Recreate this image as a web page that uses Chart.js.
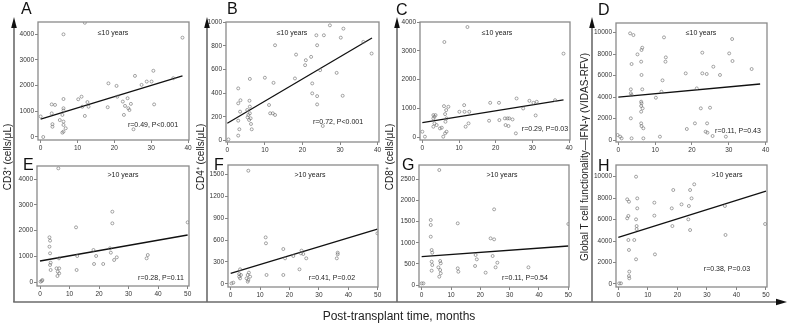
<!DOCTYPE html>
<html><head><meta charset="utf-8">
<script src="https://cdn.jsdelivr.net/npm/chart.js@4.4.0/dist/chart.umd.min.js"></script>
<style>
html,body{margin:0;padding:0;background:#fff;width:787px;height:325px;overflow:hidden;position:relative;font-family:"Liberation Sans",Arial,sans-serif}
canvas{position:absolute}
#ov{position:absolute;left:0;top:0;z-index:5;pointer-events:none}
</style></head><body>
<svg id="ov" width="787" height="325" xmlns="http://www.w3.org/2000/svg" font-family="Liberation Sans, Arial, sans-serif">
  <g stroke="#6b6b6b" stroke-width="1.6" fill="none">
    <line x1="14" y1="24" x2="14" y2="302"/>
    <line x1="207" y1="24" x2="207" y2="302"/>
    <line x1="397" y1="24" x2="397" y2="302"/>
    <line x1="592" y1="24" x2="592" y2="302"/>
    <line x1="13.2" y1="302" x2="779" y2="302"/>
  </g>
  <g fill="#111">
    <polygon points="14,17 11.2,28 16.8,28"/>
    <polygon points="207,17 204.2,28 209.8,28"/>
    <polygon points="397,17 394.2,28 399.8,28"/>
    <polygon points="592,17 589.2,28 594.8,28"/>
    <polygon points="787,302 776,298.8 776,305.2"/>
  </g>
  <g font-size="16" fill="#111">
    <text x="21" y="14">A</text>
    <text x="227" y="14">B</text>
    <text x="396" y="15">C</text>
    <text x="598" y="15">D</text>
    <text x="23" y="170">E</text>
    <text x="214" y="170">F</text>
    <text x="402" y="170">G</text>
    <text x="598" y="171">H</text>
  </g>
  <g font-size="7" fill="#222" text-anchor="middle">
    <text x="113" y="34.5">≤10 years</text>
    <text x="292" y="34.5">≤10 years</text>
    <text x="497" y="34.5">≤10 years</text>
    <text x="701" y="34.5">≤10 years</text>
    <text x="123" y="176.5">&gt;10 years</text>
    <text x="310" y="176.5">&gt;10 years</text>
    <text x="502" y="176.5">&gt;10 years</text>
    <text x="727" y="176.5">&gt;10 years</text>
    <text x="153" y="126.5">r=0.49, P&lt;0.001</text>
    <text x="338" y="123.5">r=0.72, P&lt;0.001</text>
    <text x="545" y="130.5">r=0.29, P=0.03</text>
    <text x="738" y="132.5">r=0.11, P=0.43</text>
    <text x="161" y="279.5">r=0.28, P=0.11</text>
    <text x="332" y="279.5">r=0.41, P=0.02</text>
    <text x="525" y="279.5">r=0.11, P=0.54</text>
    <text x="727" y="270.5">r=0.38, P=0.03</text>
  </g>
  <g font-size="10" fill="#222" text-anchor="middle">
    <text transform="translate(11,157) rotate(-90)">CD3⁺ (cells/μL)</text>
    <text transform="translate(203.5,157) rotate(-90)">CD4⁺ (cells/μL)</text>
    <text transform="translate(393,157) rotate(-90)">CD8⁺ (cells/μL)</text>
    <text transform="translate(587.5,157) rotate(-90)">Global T cell functionality—IFN-γ (VIDAS-RFV)</text>
  </g>
  <text x="399" y="320" font-size="12" fill="#222" text-anchor="middle">Post-transplant time, months</text>
</svg>
<script>
// ---- data (months post-transplant vs. value) ----
const timeA = [0,0.7,3.2,3.2,3.0,3.9,3.0,5.2,6.2,6.2,6.2,6.2,5.9,6.2,6.2,6.2,5.9,6.8,10.2,11.1,11.3,12,12,12.7,13,18.2,18.4,20.6,20.8,22.3,22.6,22.9,23.6,23.8,24.1,24.5,25.2,25.6,27.4,28.8,30.1,30.6,30.8,36,38.5];
const cd3Early = [800,0,500,400,1270,1250,920,660,4000,1480,1120,1030,860,600,470,210,170,340,1470,1570,1180,820,4450,1360,1180,1160,2090,1990,1570,1380,860,1210,1510,1120,1050,1290,300,2380,2030,2160,2160,2580,1270,2290,3870];

const timeB = [0.3,2.9,2.9,3.5,2.9,3.2,2.9,3.4,6.0,5.9,5.3,5.6,5.8,6.3,6.5,6.0,5.4,6.0,6.2,10,11.1,11.4,12.1,12.7,12.3,12.7,18,18.3,20.7,20.9,22.3,22.6,22.6,23.7,23.9,23.9,23.9,24.7,25.4,25.7,27.3,29.1,30.2,30.7,30.9,36.2,38.4];
const cd4Early = [10,440,314,340,168,95,42,244,520,336,258,216,174,140,95,286,196,230,188,530,300,230,230,216,487,804,524,725,636,678,706,482,398,888,804,375,305,594,123,888,972,571,868,378,944,832,734];

const timeC = [0,0.7,3,3.3,3,3.6,3,3.3,3.9,4.8,5.3,5.7,6.2,6.6,6,5.9,6.5,7.1,6.2,6.6,6.3,10.1,11.4,11.5,12.3,11.8,12.6,12.8,18.2,18.5,20.9,21,22.5,23.2,23.7,24.6,22.7,23.5,25.5,25.7,27.5,29.2,30.3,31.2,30.9,36.2,38.5];
const cd8Early = [196,23,772,714,657,772,369,484,426,311,334,23,138,196,3306,1083,945,1060,806,657,541,887,1117,887,3825,369,484,887,576,1198,1198,599,657,657,657,622,426,392,138,1348,1002,1267,1198,1233,760,1290,2903];

const timeD = [-0.2,0.5,0.9,3.2,4.1,3.6,3.4,3.4,3.6,3.4,3.6,5.2,6.5,6.3,6.2,6.3,6.5,6.2,6.3,6.2,6.6,6.2,6.2,6.3,6.8,6.8,10.2,11.3,12,11.7,12.4,12.9,12.8,18.3,18.6,20.8,21.3,22.8,22.8,24,22.4,24.9,24.1,23.7,24.2,25.6,25.8,27.6,30.1,30.9,31,29.2,36.2];
const ifnEarly = [466,311,155,9940,9780,7080,4720,4350,4190,2020,155,7980,8600,8390,7300,6060,4720,3570,3420,3170,2950,2640,1550,1300,1090,155,3940,311,5560,4500,9565,7700,7300,6210,1025,1550,4810,8140,6210,6150,2950,3010,1550,776,683,373,6830,6060,8070,9410,7360,311,6615];

const timeE = [0.2,0.8,0.6,3.2,3.4,3.2,3.4,3.6,3.4,3.6,6.2,6.4,5.6,6.5,6,6.5,5.9,12.2,12.6,12.4,18.1,18.3,19,21.4,23.7,24,24.5,24.5,25.1,26,36.1,36.5,50];
const cd3Late = [26,90,52,1742,1613,1380,1123,761,671,477,4413,929,542,542,413,348,245,2129,1019,477,1252,710,1019,710,1316,1148,2735,2284,865,968,929,1058,2323];

const timeF = [0.3,0.9,3.2,2.9,2.9,3.5,3.2,6,5.4,6,5.8,6.2,6.6,5.8,11.9,12,12.2,17.9,18.5,17.9,21.3,23.4,23.9,24.1,24.7,25.7,36.1,36.4,36.4,49.9];
const cd4Late = [9,18,200,136,100,123,77,1545,77,55,123,155,100,32,636,555,123,477,350,123,382,200,418,455,409,350,350,427,405,691];

const timeG = [0,0.6,3.1,3.1,3.1,3.4,3.6,3.4,3.6,3.4,6,5.7,6.3,6,6.5,6.3,6.5,12.3,12.3,12.5,18.2,18.4,18.8,21.8,24.2,23.5,24.7,24.7,25.2,25.8,36.4,50];
const cd8Late = [39,39,1538,1420,1143,828,765,552,473,339,2720,418,355,197,276,568,513,1459,394,315,450,710,607,292,686,1104,1080,1790,418,528,418,1443];

const timeH = [0.3,0.9,3,3.6,3,3.4,3.4,3.6,3.7,3.6,3.7,5.4,6,6.4,6.4,6,6.2,6.2,6,12.2,12.2,12.4,18.1,18.3,18.6,21.4,23.9,23.7,24.3,24.3,24.8,25.7,36.1,36.3,49.7];
const ifnLate = [62,62,7890,7670,6120,6340,4100,3170,1150,745,528,4100,10000,7980,7050,6025,5400,5120,2300,7580,6370,2760,7050,5400,8760,7420,7270,6025,8760,5030,7980,9290,7270,4570,5590];

// regression lines (end points)
const fitTimeEarly = [0, 38.5];
const fitTimeLate = [0, 50];
const fitA = [700, 2380];
const fitB = [146, 865];
const fitC = [510, 1300];
const fitD = [4000, 5220];
const fitE = [826, 1832];
const fitF = [145, 750];
const fitG = [670, 923];
const fitH = [4350, 8660];

// tick labels
const xTicksEarly = [0, 10, 20, 30, 40];
const xTicksLate = [0, 10, 20, 30, 40, 50];
const yTicksA = [0, 1000, 2000, 3000, 4000];
const yTicksB = [0, 200, 400, 600, 800, 1000];
const yTicksC = [0, 1000, 2000, 3000, 4000];
const yTicksD = [0, 2000, 4000, 6000, 8000, 10000];
const yTicksE = [0, 1000, 2000, 3000, 4000];
const yTicksF = [0, 300, 600, 900, 1200, 1500];
const yTicksG = [0, 500, 1000, 1500, 2000, 2500];
const yTicksH = [0, 2000, 4000, 6000, 8000, 10000];

// ---- layout (plot boxes in page pixels and axis ranges) ----
const panels = [
  {x: timeA, y: cd3Early, fx: fitTimeEarly, fy: fitA, xt: xTicksEarly, yt: yTicksA, box: [38, 22, 189, 140], xr: [-0.72, 40.27], yr: [-117, 4480]},
  {x: timeB, y: cd4Early, fx: fitTimeEarly, fy: fitB, xt: xTicksEarly, yt: yTicksB, box: [226, 22, 379, 142], xr: [-0.35, 40.37], yr: [-12, 1000]},
  {x: timeC, y: cd8Early, fx: fitTimeEarly, fy: fitC, xt: xTicksEarly, yt: yTicksC, box: [420, 22, 570, 140], xr: [-0.64, 40.27], yr: [-92, 4000]},
  {x: timeD, y: ifnEarly, fx: fitTimeEarly, fy: fitD, xt: xTicksEarly, yt: yTicksD, box: [616, 23, 767, 142], xr: [-0.63, 40.37], yr: [-186, 10904]},
  {x: timeE, y: cd3Late, fx: fitTimeLate, fy: fitE, xt: xTicksLate, yt: yTicksE, box: [37, 166, 189, 286], xr: [-1.02, 50.46], yr: [-142, 4504]},
  {x: timeF, y: cd4Late, fx: [0, 49.9], fy: fitF, xt: xTicksLate, yt: yTicksF, box: [228, 165, 378, 287], xr: [-0.91, 50.11], yr: [-41, 1623]},
  {x: timeG, y: cd8Late, fx: fitTimeLate, fy: fitG, xt: xTicksLate, yt: yTicksG, box: [419, 165, 569, 287], xr: [-0.91, 50.23], yr: [-47, 2839]},
  {x: timeH, y: ifnLate, fx: fitTimeLate, fy: fitH, xt: xTicksLate, yt: yTicksH, box: [616, 165, 767, 287], xr: [-0.79, 50.35], yr: [-280, 11090]}
];

const PL = 32, PT = 8, PR = 8, PB = 16;
const FONT = '"Liberation Sans", Arial, sans-serif';

const boxPlugin = {
  id: 'box',
  afterDraw(chart) {
    const a = chart.chartArea, c = chart.ctx;
    c.save();
    c.strokeStyle = '#8a8a8a';
    c.lineWidth = 1.3;
    c.strokeRect(a.left, a.top, a.right - a.left, a.bottom - a.top);
    c.restore();
  }
};

panels.forEach(p => {
  const [L, T, R, B] = p.box;
  const cv = document.createElement('canvas');
  const W = R - L + PL + PR, H = B - T + PT + PB;
  cv.width = W; cv.height = H;
  cv.style.left = (L - PL) + 'px';
  cv.style.top = (T - PT) + 'px';
  cv.style.width = W + 'px';
  cv.style.height = H + 'px';
  document.body.appendChild(cv);

  const pts = p.x.map((v, i) => ({x: v, y: p.y[i]}));
  const fit = p.fx.map((v, i) => ({x: v, y: p.fy[i]}));
  const tickFont = {family: FONT, size: 6.5};
  const grid = {display: true, drawOnChartArea: false, drawTicks: true, tickLength: 3, color: '#666', lineWidth: 0.8};
  const plain = v => String(v);

  new Chart(cv, {
    type: 'scatter',
    data: {
      datasets: [
        {data: pts, pointRadius: 1.5, pointBorderWidth: 0.6, pointBorderColor: '#6a6a6a', pointBackgroundColor: 'rgba(255,255,255,0)', showLine: false},
        {type: 'line', data: fit, borderColor: '#111', borderWidth: 1.3, pointRadius: 0, fill: false, showLine: true}
      ]
    },
    options: {
      responsive: false, animation: false, devicePixelRatio: 1,
      layout: {padding: {left: 0, top: PT, right: PR, bottom: 0}},
      plugins: {legend: {display: false}, tooltip: {enabled: false}},
      events: [],
      scales: {
        x: {
          type: 'linear', min: p.xr[0], max: p.xr[1],
          afterBuildTicks: s => { s.ticks = p.xt.map(v => ({value: v})); },
          afterFit: s => { s.height = PB; s.paddingLeft = 0; s.paddingRight = 0; },
          grid: grid, border: {display: false},
          ticks: {font: tickFont, color: '#333', padding: 1, maxRotation: 0, autoSkip: false, callback: plain}
        },
        y: {
          type: 'linear', min: p.yr[0], max: p.yr[1],
          afterBuildTicks: s => { s.ticks = p.yt.map(v => ({value: v})); },
          afterFit: s => { s.width = PL; s.paddingTop = 0; s.paddingBottom = 0; },
          grid: grid, border: {display: false},
          ticks: {font: tickFont, color: '#333', padding: 1, autoSkip: false, callback: plain}
        }
      }
    },
    plugins: [boxPlugin]
  });
});
</script>
</body></html>
